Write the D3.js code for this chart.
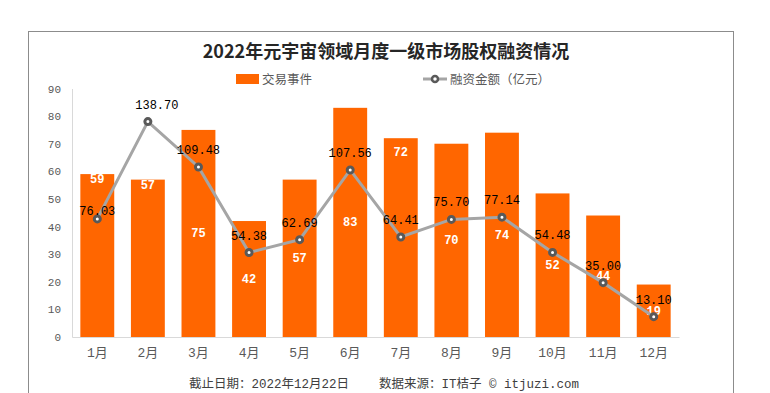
<!DOCTYPE html>
<html>
<head>
<meta charset="utf-8">
<script src="https://cdn.jsdelivr.net/npm/d3@7"></script>
<style>
  body { margin: 0; background: #fff; }
  svg { display: block; }
</style>
</head>
<body>
<script>
// chart data
const months = ["1月","2月","3月","4月","5月","6月","7月","8月","9月","10月","11月","12月"];
const deals = [59, 57, 75, 42, 57, 83, 72, 70, 74, 52, 44, 19];
const amounts = [76.03, 138.70, 109.48, 54.38, 62.69, 107.56, 64.41, 75.70, 77.14, 54.48, 35.00, 13.10];
const yTicks = [0, 10, 20, 30, 40, 50, 60, 70, 80, 90];
const titleText = "2022年元宇宙领域月度一级市场股权融资情况";
const legendNames = ["交易事件", "融资金额（亿元）"];

var width = 770, height = 393;
var orange = "#FF6600", lineGray = "#A5A5A5", markGray = "#595959", axisGray = "#D9D9D9";
var mono = "'Liberation Mono', 'Courier New', 'Noto Sans CJK SC', monospace";
var cjk = "'Noto Sans CJK SC', sans-serif";

var svg = d3.select("body").append("svg")
    .attr("width", width).attr("height", height);

svg.append("rect")
    .attr("x", 28.5).attr("y", 31.5)
    .attr("width", 705).attr("height", 380)
    .attr("fill", "#fff").attr("stroke", "#8c8c8c");

svg.append("text")
    .attr("x", 386).attr("y", 58)
    .attr("text-anchor", "middle")
    .style("font-family", cjk).style("font-size", "18px").style("font-weight", "bold")
    .attr("fill", "#262626")
    .text(titleText);

// legend
var lg = svg.append("g").style("font-family", cjk).style("font-size", "12.5px").attr("fill", "#595959");
lg.append("rect").attr("x", 236).attr("y", 74).attr("width", 23).attr("height", 10).attr("fill", orange);
lg.append("text").attr("x", 262).attr("y", 84).text(legendNames[0]);
lg.append("line").attr("x1", 423).attr("x2", 447).attr("y1", 79).attr("y2", 79)
    .attr("stroke", lineGray).attr("stroke-width", 3);
lg.append("circle").attr("cx", 435).attr("cy", 79).attr("r", 3)
    .attr("fill", "#fff").attr("stroke", markGray).attr("stroke-width", 2.5);
lg.append("text").attr("x", 450).attr("y", 84).text(legendNames[1]);

var x = d3.scaleBand().domain(months).range([72, 679]).paddingInner(0.33).paddingOuter(0.165);
var y = d3.scaleLinear().domain([0, 90]).range([337, 88.5]);
var y2 = d3.scaleLinear().domain([0, 160]).range([337, 88.5]);

var yAxis = svg.append("g").attr("transform", "translate(72,0)")
    .call(d3.axisLeft(y).tickValues(yTicks).tickSize(0).tickPadding(11));
yAxis.select(".domain").attr("stroke", axisGray);
yAxis.selectAll("text").style("font-family", mono).style("font-size", "11px").attr("fill", "#595959");

var bars = svg.append("g");
bars.selectAll("rect").data(deals).enter().append("rect")
    .attr("x", (d, i) => x(months[i]))
    .attr("y", d => y(d))
    .attr("width", x.bandwidth())
    .attr("height", d => y(0) - y(d))
    .attr("fill", orange);

var xAxis = svg.append("g").attr("transform", "translate(0,337)")
    .call(d3.axisBottom(x).tickSize(0).tickSizeOuter(0).tickPadding(11));
xAxis.select(".domain").attr("stroke", axisGray);
xAxis.selectAll("text").style("font-family", mono).style("font-size", "13px").attr("fill", "#595959");

// bar labels: a few sit near the top of the bar, the rest mid-bar
var topLabels = new Set([0, 1, 6]);
bars.selectAll("text").data(deals).enter().append("text")
    .attr("x", (d, i) => x(months[i]) + x.bandwidth() / 2)
    .attr("y", (d, i) => topLabels.has(i) ? y(d) + (i == 6 ? 18 : 9) : (y(d) + y(0)) / 2 + 4)
    .attr("text-anchor", "middle")
    .style("font-family", mono).style("font-size", "12px").style("font-weight", "bold")
    .attr("fill", "#fff")
    .text(d => d);

var line = d3.line()
    .x((d, i) => x(months[i]) + x.bandwidth() / 2)
    .y(d => y2(d));

svg.append("path").datum(amounts)
    .attr("d", line)
    .attr("fill", "none").attr("stroke", lineGray).attr("stroke-width", 3);

svg.append("g").selectAll("circle").data(amounts).enter().append("circle")
    .attr("cx", (d, i) => x(months[i]) + x.bandwidth() / 2)
    .attr("cy", d => y2(d))
    .attr("r", 3)
    .attr("fill", "#fff").attr("stroke", markGray).attr("stroke-width", 3);

svg.append("g").selectAll("text").data(amounts).enter().append("text")
    .attr("x", (d, i) => x(months[i]) + x.bandwidth() / 2 + (i == 1 ? 9 : 0))
    .attr("y", (d, i) => y2(d) - (i == 0 ? 8 : 17) + 4)
    .attr("text-anchor", "middle")
    .style("font-family", mono).style("font-size", "12px")
    .attr("fill", "#000")
    .text(d => d.toFixed(2));

// footer
var ft = svg.append("g").style("font-size", "12.5px").attr("fill", "#404040")
    .style("font-family", mono);
ft.append("text").attr("x", 189).attr("y", 388)
    .text("截止日期：2022年12月22日");
ft.append("text").attr("x", 379).attr("y", 388)
    .text("数据来源：IT桔子 © itjuzi.com");
</script>
</body>
</html>
